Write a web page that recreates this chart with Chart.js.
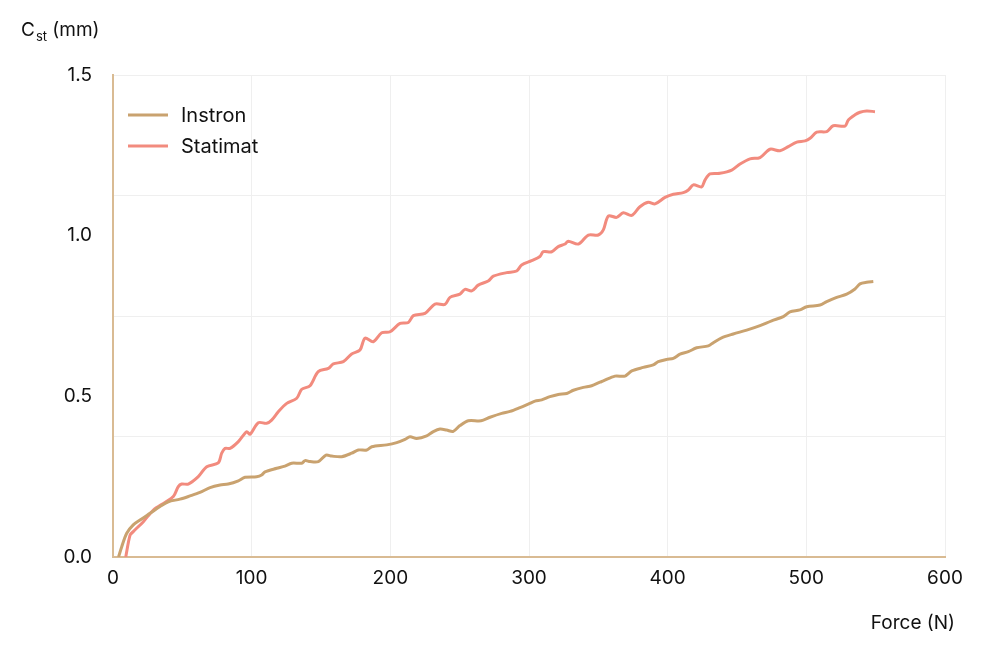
<!DOCTYPE html>
<html>
<head>
<meta charset="utf-8">
<script src="https://cdn.jsdelivr.net/npm/chart.js@4/dist/chart.umd.min.js"></script>
<style>
  html, body { margin: 0; padding: 0; background: #fff; }
  #wrap { width: 987px; height: 662px; }
</style>
</head>
<body>
<div id="wrap"><canvas id="chart" width="987" height="662"></canvas></div>
<script>
// Force (N) / C_st (mm)
const instronX = [4, 6.3, 9.9, 14.6, 19.5, 26.7, 33.9, 39.9, 48.3, 55.5, 62.7, 70, 77.2, 83.1, 90.4, 95.2, 103.6, 107.2, 109.6, 118.1, 124, 128.9, 136.1, 138.5, 142.1, 148.1, 153.6, 157.7, 164.9, 172.1, 176.9, 183, 186.6, 197.4, 204.6, 210.6, 214.2, 219, 226.2, 231, 235.8, 240.6, 245.4, 250.2, 256.2, 265.4, 271.9, 280.3, 286.3, 293.5, 299.5, 304.3, 309.2, 315.1, 321.1, 327.2, 332, 339.2, 345.2, 351.2, 353.6, 362, 369.2, 374.1, 382.4, 389.6, 393.2, 399.3, 404.1, 408.9, 414.9, 420.9, 429.3, 432.9, 438.9, 447.3, 457, 466.6, 475, 483.4, 488.2, 495.4, 500.3, 509.9, 514.7, 521.9, 529.1, 535.1, 538.7, 543.5, 548.3];
const instronY = [0, 0.032, 0.074, 0.1, 0.115, 0.136, 0.157, 0.172, 0.18, 0.19, 0.201, 0.216, 0.224, 0.227, 0.237, 0.248, 0.25, 0.255, 0.265, 0.276, 0.283, 0.292, 0.292, 0.3, 0.297, 0.297, 0.317, 0.314, 0.312, 0.323, 0.333, 0.333, 0.343, 0.349, 0.356, 0.366, 0.374, 0.369, 0.377, 0.39, 0.398, 0.395, 0.391, 0.409, 0.424, 0.424, 0.435, 0.447, 0.453, 0.465, 0.476, 0.485, 0.489, 0.499, 0.506, 0.509, 0.519, 0.528, 0.533, 0.544, 0.548, 0.563, 0.563, 0.579, 0.59, 0.598, 0.608, 0.615, 0.618, 0.631, 0.639, 0.651, 0.657, 0.667, 0.682, 0.694, 0.706, 0.72, 0.735, 0.748, 0.763, 0.769, 0.779, 0.784, 0.795, 0.808, 0.818, 0.834, 0.85, 0.855, 0.857];

const statimatX = [9.2, 12.3, 14.6, 21.9, 29.1, 37.5, 43.5, 47.1, 49.5, 54.3, 61.5, 67.6, 75.9, 78.4, 80.8, 84.4, 90.4, 96.4, 98.8, 104.8, 110.8, 114.4, 119.2, 125.3, 132.5, 136.1, 142.1, 148, 155.3, 158.9, 166.1, 172.1, 178.1, 181.7, 187.7, 193.8, 199.8, 207, 213, 216.6, 225, 232.2, 239.4, 243, 250.2, 253.8, 258.7, 263.4, 270.6, 274.3, 283.9, 291.1, 294.7, 301.9, 307.9, 310.3, 316.4, 321.1, 326, 328.3, 335.6, 342.8, 350, 353.6, 357.2, 363.2, 368, 374.1, 380, 386, 390.9, 398.1, 404.1, 411.3, 414.9, 418.5, 424.5, 426.9, 430.5, 437.7, 446.2, 452.2, 459.4, 466.6, 473.8, 481, 487, 493.1, 499.1, 502.7, 507.5, 514.7, 519.4, 527.9, 530.3, 535.1, 538.7, 543.5, 549.5];
const statimatY = [0, 0.068, 0.079, 0.11, 0.146, 0.17, 0.188, 0.219, 0.227, 0.227, 0.25, 0.281, 0.293, 0.323, 0.338, 0.338, 0.359, 0.39, 0.382, 0.418, 0.416, 0.426, 0.452, 0.478, 0.494, 0.522, 0.533, 0.577, 0.587, 0.601, 0.608, 0.632, 0.644, 0.681, 0.67, 0.698, 0.701, 0.727, 0.73, 0.751, 0.758, 0.787, 0.786, 0.808, 0.818, 0.833, 0.828, 0.846, 0.859, 0.874, 0.885, 0.89, 0.909, 0.922, 0.935, 0.95, 0.95, 0.966, 0.974, 0.983, 0.974, 1.002, 1.002, 1.018, 1.061, 1.057, 1.071, 1.063, 1.09, 1.104, 1.099, 1.119, 1.129, 1.134, 1.142, 1.158, 1.152, 1.173, 1.192, 1.194, 1.204, 1.223, 1.239, 1.243, 1.269, 1.264, 1.277, 1.291, 1.295, 1.303, 1.322, 1.324, 1.342, 1.341, 1.36, 1.376, 1.384, 1.388, 1.386];

const seriesNames = ["Instron", "Statimat"];
const yLabelTicks = [0, 0.5, 1.0, 1.5];
const yGridTicks = [0, 0.375, 0.75, 1.125, 1.5];

const toPoints = (xs, ys) => xs.map((x, i) => ({ x, y: ys[i] }));

const FONT = "Inter, 'Noto Sans', sans-serif";
const TAN = "#c9a26f";
const SALMON = "#f28b7e";
const AXIS = "#d9bb93";
const GRID = "#efefef";

// y title with subscript, x title, and the in-chart legend
const decorations = {
  id: "decorations",
  afterDraw(chart) {
    const ctx = chart.ctx;
    ctx.save();
    ctx.fillStyle = "#111";
    ctx.textBaseline = "alphabetic";
    ctx.font = "19px " + FONT;
    ctx.fillText("C", 21, 36);
    let w = ctx.measureText("C").width;
    ctx.font = "13px " + FONT;
    ctx.fillText("st", 21 + w + 1, 41);
    let w2 = ctx.measureText("st").width;
    ctx.font = "19px " + FONT;
    ctx.fillText(" (mm)", 21 + w + 1 + w2, 36);

    ctx.textAlign = "right";
    ctx.fillText("Force (N)", 955, 629);

    ctx.textAlign = "left";
    ctx.textBaseline = "middle";
    ctx.font = "20px " + FONT;
    chart.data.datasets.forEach((ds, i) => {
      const y = 115 + i * 31;
      ctx.strokeStyle = ds.borderColor;
      ctx.lineWidth = 3;
      ctx.beginPath();
      ctx.moveTo(128, y);
      ctx.lineTo(168, y);
      ctx.stroke();
      ctx.fillStyle = "#111";
      ctx.fillText(ds.label, 181, y + 1);
    });
    ctx.restore();
  }
};

new Chart(document.getElementById("chart").getContext("2d"), {
  type: "scatter",
  data: {
    datasets: [
      {
        label: seriesNames[0],
        data: toPoints(instronX, instronY),
        borderColor: TAN,
        showLine: true,
        pointRadius: 0,
        borderWidth: 3,
        tension: 0.3
      },
      {
        label: seriesNames[1],
        data: toPoints(statimatX, statimatY),
        borderColor: SALMON,
        showLine: true,
        pointRadius: 0,
        borderWidth: 3,
        tension: 0.3
      }
    ]
  },
  options: {
    responsive: false,
    animation: false,
    layout: { padding: { top: 75, right: 42, bottom: 0, left: 0 } },
    plugins: {
      legend: { display: false },
      tooltip: { enabled: false }
    },
    scales: {
      x: {
        type: "linear",
        min: 0,
        max: 600,
        afterFit: s => { s.height = 105; },
        ticks: {
          stepSize: 100,
          padding: 10,
          color: "#111",
          font: { family: FONT, size: 19 }
        },
        grid: { color: GRID, drawTicks: false },
        border: { color: AXIS, width: 2 }
      },
      y: {
        type: "linear",
        min: 0,
        max: 1.5,
        afterFit: s => { s.width = 113; },
        afterBuildTicks: s => {
          const all = new Set([...yLabelTicks, ...yGridTicks]);
          s.ticks = [...all].sort((a, b) => a - b).map(v => ({ value: v }));
        },
        ticks: {
          padding: 21,
          color: "#111",
          autoSkip: false,
          font: { family: FONT, size: 19 },
          callback: v => yLabelTicks.includes(v) ? v.toFixed(1) : ""
        },
        grid: {
          drawTicks: false,
          color: c => (c.tick && yGridTicks.includes(c.tick.value)) ? GRID : "transparent"
        },
        border: { color: AXIS, width: 2 }
      }
    }
  },
  plugins: [decorations]
});
</script>
</body>
</html>
